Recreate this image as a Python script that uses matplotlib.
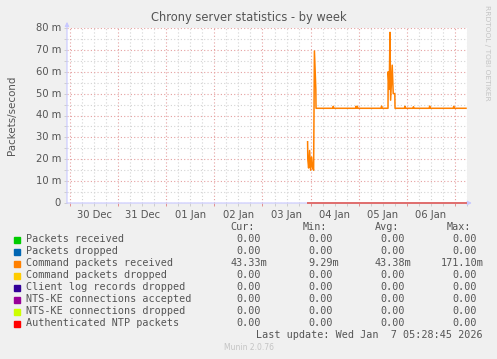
import matplotlib
matplotlib.use("Agg")
import matplotlib.pyplot as plt
from matplotlib.ticker import MultipleLocator, FixedLocator

# -------------
# Data
# -------------

# hours since 30 Dec 00:00, command packets received (milli packets/second)
cmd_hours = [118.5, 118.6, 119.0, 119.5, 120.0, 120.5, 121.0, 121.5, 121.9, 122.6, 122.7,
             131.0, 131.3, 131.6, 142.4, 142.7, 143.0, 143.3, 143.6,
             155.1, 155.4, 155.7, 158.6, 158.7, 159.2, 159.6, 159.9, 160.7, 161.2, 162.0, 162.1,
             166.8, 167.1, 167.4, 171.0, 171.3, 171.6, 179.1, 179.4, 179.7,
             191.1, 191.4, 191.7, 197.5]
cmd_rate = [28, 20, 16, 24, 15, 21, 16, 15, 69.5, 52, 43.3,
            43.3, 44.2, 43.3, 43.3, 44.2, 43.3, 44.2, 43.3,
            43.3, 44.3, 43.3, 43.3, 60, 52, 78, 47, 63, 50, 50, 43.3,
            43.3, 44.2, 43.3, 43.3, 44.0, 43.3, 43.3, 44.3, 43.3,
            43.3, 44.2, 43.3, 43.3]

day_labels = ["30 Dec", "31 Dec", "01 Jan", "02 Jan", "03 Jan", "04 Jan", "05 Jan", "06 Jan"]
y_labels = ["0", "10 m", "20 m", "30 m", "40 m", "50 m", "60 m", "70 m", "80 m"]

series_names = ["Packets received", "Packets dropped", "Command packets received",
                "Command packets dropped", "Client log records dropped",
                "NTS-KE connections accepted", "NTS-KE connections dropped",
                "Authenticated NTP packets"]
series_colors = ["#00CC00", "#0066B3", "#FF8000", "#FFCC00", "#330099",
                 "#990099", "#CCFF00", "#FF0000"]
cur_vals = ["0.00", "0.00", "43.33m", "0.00", "0.00", "0.00", "0.00", "0.00"]
min_vals = ["0.00", "0.00", "9.29m", "0.00", "0.00", "0.00", "0.00", "0.00"]
avg_vals = ["0.00", "0.00", "43.38m", "0.00", "0.00", "0.00", "0.00", "0.00"]
max_vals = ["0.00", "0.00", "171.10m", "0.00", "0.00", "0.00", "0.00", "0.00"]

# -------------
# Figure
# -------------

W, H = 497, 359
BG = "#F0F0F0"
TXT = "#555555"
MONO = "DejaVu Sans Mono"

fig = plt.figure(figsize=(W / 100, H / 100), dpi=100, facecolor=BG)
ax = fig.add_axes([67 / W, 1 - 203 / H, 400 / W, 175 / H])
ax.set_facecolor("white")

ax.set_xlim(-1.5, 198.0)
ax.set_ylim(0, 80)

# grid
ax.xaxis.set_major_locator(FixedLocator([24 * i for i in range(9)]))
ax.xaxis.set_minor_locator(MultipleLocator(6))
ax.yaxis.set_major_locator(MultipleLocator(10))
ax.yaxis.set_minor_locator(MultipleLocator(5))
ax.grid(which="minor", color="#D4D4D4", linestyle=(0, (1, 2)), linewidth=0.8)
ax.grid(which="major", color="#E5A0A0", linestyle=(0, (1, 2)), linewidth=0.8)
ax.set_axisbelow(True)

ax.set_xticklabels([])
ax.set_yticklabels([])
ax.tick_params(axis="both", which="both", length=2, width=0.6, colors="#C8C8C8")
ax.tick_params(axis="x", which="major", colors="#E08080")
for i, lab in enumerate(day_labels):
    ax.text(12 + 24 * i, -3.2, lab, ha="center", va="top", fontsize=7.2, color=TXT)
for i, lab in enumerate(y_labels):
    ax.text(-4.5, 10 * i, lab, ha="right", va="center", fontsize=7.2, color=TXT)

for sp in ax.spines.values():
    sp.set_visible(False)

# axes with arrows
ax.annotate("", xy=(0, 1.035), xytext=(0, 0), xycoords="axes fraction",
            arrowprops=dict(arrowstyle="-|>", color="#C8C8FF", lw=0.8,
                            mutation_scale=6, shrinkA=0, shrinkB=0))
ax.annotate("", xy=(1.012, 0), xytext=(0, 0), xycoords="axes fraction",
            arrowprops=dict(arrowstyle="-|>", color="#C8C8FF", lw=0.8,
                            mutation_scale=6, shrinkA=0, shrinkB=0))

# zero series from the start of data, then the active one
start, end = cmd_hours[0], cmd_hours[-1]
for name, col in zip(series_names, series_colors):
    if name != "Command packets received":
        ax.plot([start, end], [0, 0], color="#E07070", lw=1.2, clip_on=False, zorder=3)
ax.plot(cmd_hours, cmd_rate, color="#FF8000", lw=1.1, zorder=4)

# titles
fig.text(0.5, 1 - 18 / H, "Chrony server statistics - by week", ha="center", va="center",
         fontsize=8.3, color=TXT)
fig.text(12 / W, 1 - 115 / H, "Packets/second", rotation=90, ha="center", va="center",
         fontsize=7.4, color=TXT)
fig.text(487 / W, 1 - 5 / H, "RRDTOOL / TOBI OETIKER", rotation=270, ha="center", va="top",
         fontsize=5.4, color="#C4C4C4")

# legend table
cw = 5.9
row_y = [239.5, 251.5, 263.5, 275.5, 287.5, 299.5, 311.5, 323.5]
col_start = [236.7, 308.7, 380.7, 452.7]

for x, lab in zip([230.7, 302.7, 374.7, 446.7], ["Cur:", "Min:", "Avg:", "Max:"]):
    fig.text(x / W, 1 - 227.5 / H, lab, ha="left", va="center", fontsize=7.3,
             family=MONO, color=TXT)

for i, (name, col) in enumerate(zip(series_names, series_colors)):
    y = 1 - row_y[i] / H
    fig.patches.append(plt.Rectangle((14 / W, y - 3 / H), 6 / W, 6 / H,
                                     transform=fig.transFigure, color=col, figure=fig))
    fig.text(26 / W, y, name, ha="left", va="center", fontsize=7.3, family=MONO, color=TXT)
    for x0, vals in zip(col_start, [cur_vals, min_vals, avg_vals, max_vals]):
        s = vals[i]
        num = s.rstrip("m")
        x = x0 - (len(num) - 4) * cw
        fig.text(x / W, y, s, ha="left", va="center", fontsize=7.3, family=MONO, color=TXT)

fig.text(482.7 / W, 1 - 335.5 / H, "Last update: Wed Jan  7 05:28:45 2026", ha="right",
         va="center", fontsize=7.3, family=MONO, color=TXT)
fig.text(0.5, 1 - 348 / H, "Munin 2.0.76", ha="center", va="center", fontsize=5.5,
         color="#C4C4C4")

fig.savefig("out.png", dpi=100, facecolor=BG)
